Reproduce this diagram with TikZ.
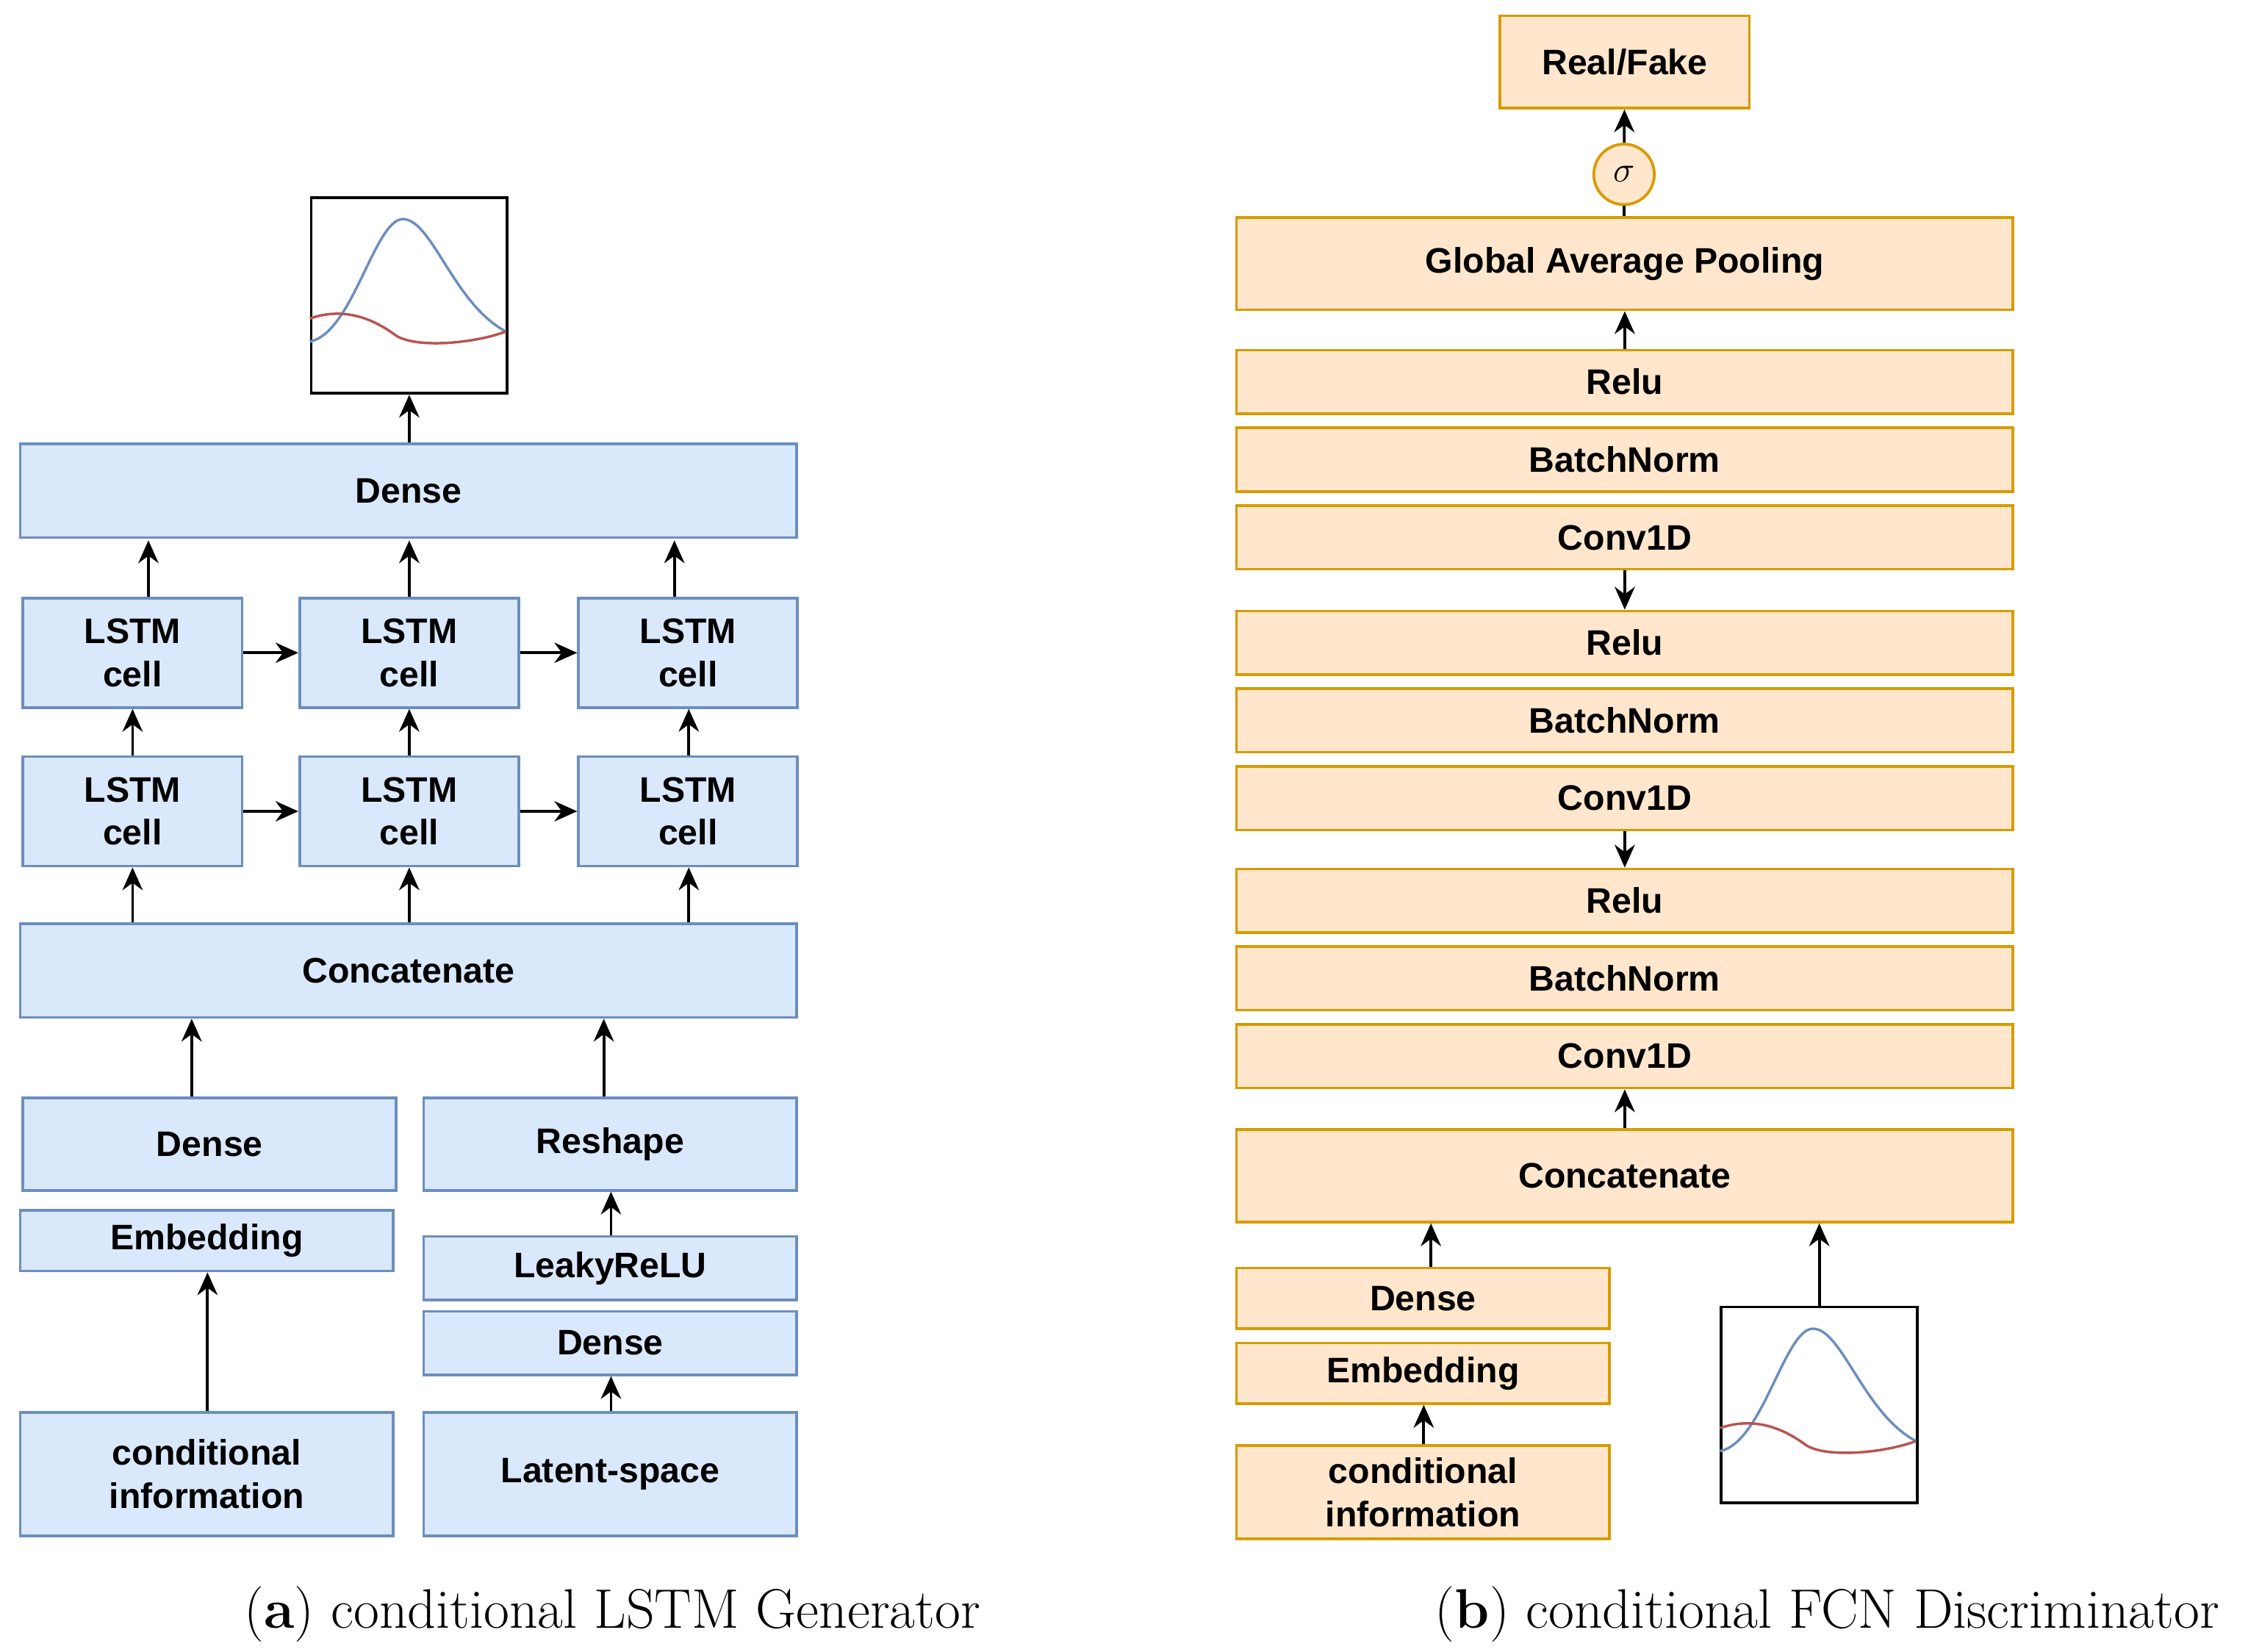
\documentclass[tikz,border=0pt]{standalone}
\usepackage{fontspec}
\setmainfont{Latin Modern Roman}
\newfontfamily\boxfont{Liberation Sans}
\usetikzlibrary{arrows.meta}
\definecolor{bfill}{HTML}{DAE8FC}\definecolor{bdraw}{HTML}{6C8EBF}
\definecolor{ofill}{HTML}{FFE6CC}\definecolor{odraw}{HTML}{D79B00}
\definecolor{rcurve}{HTML}{B85450}
\begin{document}
\begin{tikzpicture}[x=0.02cm,y=-0.02cm,
 box/.style={draw, line width=1.1pt, inner sep=0pt, align=center, font=\boxfont\bfseries\fontsize{14}{17}\selectfont},
 gb/.style={box, fill=bfill, draw=bdraw},
 ob/.style={box, fill=ofill, draw=odraw},
 plot/.style={draw=black, line width=1.1pt, minimum width=2.72cm, minimum height=2.72cm, inner sep=0pt},
 arr/.style={line width=1.1pt, -{Stealth[length=9pt,width=8pt]}},
 captxt/.style={font=\fontsize{22}{26}\selectfont}]
\useasboundingbox (0,0) rectangle (1560,1146);
\newcommand\bx[7]{\node[#1, minimum width=#4*0.02cm, minimum height=#5*0.02cm] (#6) at (#2,#3) {#7};}
\newcommand\curves[1]{
 \begin{scope}[shift={(#1.north west)}]
  \draw[bdraw, line width=1pt] (0,101) .. controls (30,95) and (45,15) .. (65,16) .. controls (85,17) and (100,75) .. (136,94);
  \draw[rcurve, line width=1pt] (0,85) .. controls (20,78) and (40,82) .. (60,97) .. controls (75,106) and (115,102) .. (136,94);
 \end{scope}}
% ---------- left
\node[plot] (pl) at (284,205) {};
\curves{pl}
\bx{gb}{283.5}{340.5}{539}{65}{dtop}{Dense}
\bx{gb}{92}{453}{152}{76}{l11}{LSTM\\cell}
\bx{gb}{284}{453}{152}{76}{l12}{LSTM\\cell}
\bx{gb}{477.5}{453}{152}{76}{l13}{LSTM\\cell}
\bx{gb}{92}{563}{152}{76}{l21}{LSTM\\cell}
\bx{gb}{284}{563}{152}{76}{l22}{LSTM\\cell}
\bx{gb}{477.5}{563}{152}{76}{l23}{LSTM\\cell}
\bx{gb}{283.5}{673.5}{539}{65}{cat}{Concatenate}
\bx{gb}{145.5}{794}{259}{64}{dl}{Dense}
\bx{gb}{423.5}{794}{259}{64}{rs}{Reshape}
\bx{gb}{143.5}{861}{259}{42}{emb}{Embedding}
\bx{gb}{423.5}{880}{259}{44}{lr}{LeakyReLU}
\bx{gb}{423.5}{932}{259}{44}{d2}{Dense}
\bx{gb}{143.5}{1023}{259}{86}{ci}{conditional\\information}
\bx{gb}{423.5}{1023}{259}{86}{ls}{Latent-space}
\draw[arr] (dtop.north -| pl) -- (pl.south);
\foreach \a/\x in {l11/103,l12/284,l13/468} \draw[arr] (\a.north -| \x,0) -- (\x,375);
\foreach \a/\b/\x in {l21/l11/92,l22/l12/284,l23/l13/478} \draw[arr] (\a.north -| \x,0) -- (\b.south -| \x,0);
\foreach \b/\x in {l21/92,l22/284,l23/478} \draw[arr] (cat.north -| \x,0) -- (\b.south -| \x,0);
\draw[arr] (l11) -- (l12); \draw[arr] (l12) -- (l13);
\draw[arr] (l21) -- (l22); \draw[arr] (l22) -- (l23);
\draw[arr] (dl.north -| 133,0) -- (cat.south -| 133,0);
\draw[arr] (rs.north -| 419,0) -- (cat.south -| 419,0);
\draw[arr] (lr.north -| 424,0) -- (rs.south -| 424,0);
\draw[arr] (ls.north -| 424,0) -- (d2.south -| 424,0);
\draw[arr] (ci.north -| 144,0) -- (emb.south -| 144,0);
\node[captxt] (ca) at (425,1120) {(\textbf{a}) conditional LSTM Generator};
% ---------- right
\bx{ob}{1127.5}{43}{173}{64}{rf}{Real/Fake}
\node[ob, circle, minimum size=0.84cm, font=\Large] (sg) at (1127,121) {$\sigma$};
\bx{ob}{1127.5}{183}{539}{64}{gap}{Global Average Pooling}
\bx{ob}{1127.5}{265}{539}{44}{r1}{Relu}
\bx{ob}{1127.5}{319}{539}{44}{b1}{BatchNorm}
\bx{ob}{1127.5}{373}{539}{44}{c1}{Conv1D}
\bx{ob}{1127.5}{446}{539}{44}{r2}{Relu}
\bx{ob}{1127.5}{500}{539}{44}{b2}{BatchNorm}
\bx{ob}{1127.5}{554}{539}{44}{c2}{Conv1D}
\bx{ob}{1127.5}{625}{539}{44}{r3}{Relu}
\bx{ob}{1127.5}{679}{539}{44}{b3}{BatchNorm}
\bx{ob}{1127.5}{733}{539}{44}{c3}{Conv1D}
\bx{ob}{1127.5}{816}{539}{64}{cat2}{Concatenate}
\bx{ob}{987.5}{901}{259}{42}{dr}{Dense}
\bx{ob}{987.5}{953}{259}{42}{er}{Embedding}
\bx{ob}{987.5}{1035.5}{259}{65}{cr}{conditional\\information}
\node[plot] (pr) at (1262.5,975) {};
\curves{pr}
\draw[arr] (sg) -- (rf);
\draw[line width=1.1pt] (gap.north -| sg) -- (sg);
\draw[arr] (r1) -- (gap);
\draw[arr] (c1) -- (r2);
\draw[arr] (c2) -- (r3);
\draw[arr] (cat2) -- (c3);
\draw[arr] (dr.north -| 993,0) -- (cat2.south -| 993,0);
\draw[arr] (pr.north) -- (cat2.south -| pr);
\draw[arr] (cr.north -| 988,0) -- (er.south -| 988,0);
\node[captxt] (cb) at (1268,1120) {(\textbf{b}) conditional FCN Discriminator};
\end{tikzpicture}
\end{document}
